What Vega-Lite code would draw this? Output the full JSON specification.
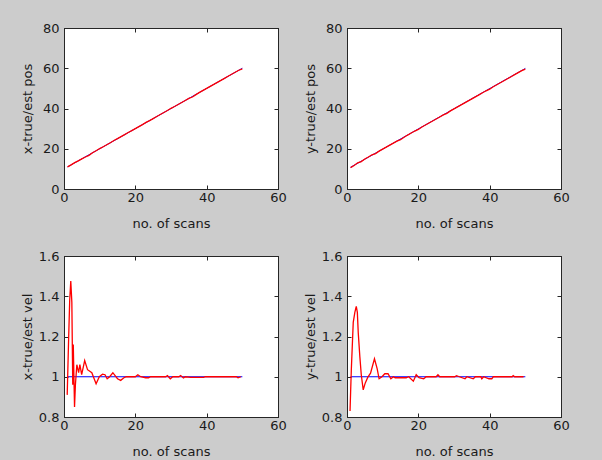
{
"$schema":"https://vega.github.io/schema/vega-lite/v6.json",
"autosize":{"type":"pad"},
"padding":{"left":20,"top":21,"right":32,"bottom":1},
"background":"#cccccc",
"bounds":"flush",
"spacing":{"row":67,"column":69},
"columns":2,
"datasets":{
"pos":[
{"p":"x","s":"t","k":1,"v":11},{"p":"x","s":"t","k":50,"v":60},
{"p":"x","s":"e","k":1,"v":11.0},{"p":"x","s":"e","k":2,"v":12.0},{"p":"x","s":"e","k":3,"v":13.1},{"p":"x","s":"e","k":4,"v":14.0},{"p":"x","s":"e","k":5,"v":15.0},{"p":"x","s":"e","k":6,"v":15.9},{"p":"x","s":"e","k":7,"v":16.7},{"p":"x","s":"e","k":8,"v":18.0},{"p":"x","s":"e","k":9,"v":19.0},{"p":"x","s":"e","k":10,"v":20.1},
{"p":"x","s":"e","k":11,"v":21.0},{"p":"x","s":"e","k":12,"v":22.0},{"p":"x","s":"e","k":13,"v":23.0},{"p":"x","s":"e","k":14,"v":24.1},{"p":"x","s":"e","k":15,"v":25.0},{"p":"x","s":"e","k":16,"v":26.0},{"p":"x","s":"e","k":17,"v":27.0},{"p":"x","s":"e","k":18,"v":28.1},{"p":"x","s":"e","k":19,"v":29.0},{"p":"x","s":"e","k":20,"v":30.0},
{"p":"x","s":"e","k":21,"v":31.0},{"p":"x","s":"e","k":22,"v":32.0},{"p":"x","s":"e","k":23,"v":33.1},{"p":"x","s":"e","k":24,"v":34.0},{"p":"x","s":"e","k":25,"v":35.0},{"p":"x","s":"e","k":26,"v":36.0},{"p":"x","s":"e","k":27,"v":37.0},{"p":"x","s":"e","k":28,"v":38.0},{"p":"x","s":"e","k":29,"v":39.0},{"p":"x","s":"e","k":30,"v":40.1},
{"p":"x","s":"e","k":31,"v":41.0},{"p":"x","s":"e","k":32,"v":42.0},{"p":"x","s":"e","k":33,"v":43.0},{"p":"x","s":"e","k":34,"v":44.0},{"p":"x","s":"e","k":35,"v":45.0},{"p":"x","s":"e","k":36,"v":45.7},{"p":"x","s":"e","k":37,"v":46.9},{"p":"x","s":"e","k":38,"v":48.0},{"p":"x","s":"e","k":39,"v":49.0},{"p":"x","s":"e","k":40,"v":50.0},
{"p":"x","s":"e","k":41,"v":51.0},{"p":"x","s":"e","k":42,"v":52.0},{"p":"x","s":"e","k":43,"v":53.0},{"p":"x","s":"e","k":44,"v":54.0},{"p":"x","s":"e","k":45,"v":55.0},{"p":"x","s":"e","k":46,"v":56.0},{"p":"x","s":"e","k":47,"v":57.0},{"p":"x","s":"e","k":48,"v":58.0},{"p":"x","s":"e","k":49,"v":59.0},{"p":"x","s":"e","k":50,"v":59.7},
{"p":"y","s":"t","k":1,"v":10.8},{"p":"y","s":"t","k":50,"v":59.9},
{"p":"y","s":"e","k":1,"v":10.6},{"p":"y","s":"e","k":2,"v":11.7},{"p":"y","s":"e","k":3,"v":13.0},{"p":"y","s":"e","k":4,"v":13.6},{"p":"y","s":"e","k":5,"v":14.9},{"p":"y","s":"e","k":6,"v":15.9},{"p":"y","s":"e","k":7,"v":17.0},{"p":"y","s":"e","k":8,"v":17.6},{"p":"y","s":"e","k":9,"v":18.8},{"p":"y","s":"e","k":10,"v":19.8},
{"p":"y","s":"e","k":11,"v":20.8},{"p":"y","s":"e","k":12,"v":21.8},{"p":"y","s":"e","k":13,"v":22.8},{"p":"y","s":"e","k":14,"v":23.8},{"p":"y","s":"e","k":15,"v":24.5},{"p":"y","s":"e","k":16,"v":25.7},{"p":"y","s":"e","k":17,"v":26.8},{"p":"y","s":"e","k":18,"v":27.8},{"p":"y","s":"e","k":19,"v":28.8},{"p":"y","s":"e","k":20,"v":29.6},
{"p":"y","s":"e","k":21,"v":30.8},{"p":"y","s":"e","k":22,"v":31.8},{"p":"y","s":"e","k":23,"v":32.8},{"p":"y","s":"e","k":24,"v":33.8},{"p":"y","s":"e","k":25,"v":34.8},{"p":"y","s":"e","k":26,"v":35.8},{"p":"y","s":"e","k":27,"v":36.8},{"p":"y","s":"e","k":28,"v":37.6},{"p":"y","s":"e","k":29,"v":38.8},{"p":"y","s":"e","k":30,"v":39.8},
{"p":"y","s":"e","k":31,"v":40.8},{"p":"y","s":"e","k":32,"v":41.8},{"p":"y","s":"e","k":33,"v":42.8},{"p":"y","s":"e","k":34,"v":43.8},{"p":"y","s":"e","k":35,"v":44.8},{"p":"y","s":"e","k":36,"v":45.8},{"p":"y","s":"e","k":37,"v":46.8},{"p":"y","s":"e","k":38,"v":47.8},{"p":"y","s":"e","k":39,"v":48.8},{"p":"y","s":"e","k":40,"v":49.6},
{"p":"y","s":"e","k":41,"v":50.8},{"p":"y","s":"e","k":42,"v":51.8},{"p":"y","s":"e","k":43,"v":52.8},{"p":"y","s":"e","k":44,"v":53.8},{"p":"y","s":"e","k":45,"v":54.8},{"p":"y","s":"e","k":46,"v":55.8},{"p":"y","s":"e","k":47,"v":56.8},{"p":"y","s":"e","k":48,"v":57.8},{"p":"y","s":"e","k":49,"v":58.8},{"p":"y","s":"e","k":50,"v":59.6}
],
"vel":[
{"p":"x","s":"t","k":1,"v":1},{"p":"x","s":"t","k":50,"v":1},
{"p":"x","s":"e","k":0.9,"v":0.91},{"p":"x","s":"e","k":1.3,"v":1.19},{"p":"x","s":"e","k":1.6,"v":1.38},{"p":"x","s":"e","k":1.9,"v":1.475},{"p":"x","s":"e","k":2.2,"v":1.37},{"p":"x","s":"e","k":2.45,"v":0.96},{"p":"x","s":"e","k":2.6,"v":1.16},{"p":"x","s":"e","k":2.95,"v":0.85},{"p":"x","s":"e","k":3.2,"v":0.96},{"p":"x","s":"e","k":3.6,"v":1.06},
{"p":"x","s":"e","k":4.1,"v":1.02},{"p":"x","s":"e","k":4.45,"v":1.06},{"p":"x","s":"e","k":4.95,"v":1.01},{"p":"x","s":"e","k":5.8,"v":1.08},{"p":"x","s":"e","k":6.6,"v":1.035},{"p":"x","s":"e","k":7.8,"v":1.02},{"p":"x","s":"e","k":9.0,"v":0.965},{"p":"x","s":"e","k":9.9,"v":1.0},{"p":"x","s":"e","k":10.8,"v":1.013},{"p":"x","s":"e","k":11.5,"v":1.01},
{"p":"x","s":"e","k":12.1,"v":0.99},{"p":"x","s":"e","k":12.8,"v":1.0},{"p":"x","s":"e","k":13.7,"v":1.02},{"p":"x","s":"e","k":15.0,"v":0.99},{"p":"x","s":"e","k":15.9,"v":0.982},{"p":"x","s":"e","k":16.8,"v":0.995},{"p":"x","s":"e","k":17.5,"v":1.0},{"p":"x","s":"e","k":20.0,"v":1.0},{"p":"x","s":"e","k":20.7,"v":1.01},{"p":"x","s":"e","k":21.5,"v":1.0},
{"p":"x","s":"e","k":22.9,"v":0.995},{"p":"x","s":"e","k":23.7,"v":0.995},{"p":"x","s":"e","k":24.3,"v":1.0},{"p":"x","s":"e","k":28.5,"v":1.0},{"p":"x","s":"e","k":29.0,"v":1.006},{"p":"x","s":"e","k":29.8,"v":0.99},{"p":"x","s":"e","k":30.5,"v":1.0},{"p":"x","s":"e","k":32.2,"v":1.0},{"p":"x","s":"e","k":32.7,"v":1.006},{"p":"x","s":"e","k":33.5,"v":0.994},
{"p":"x","s":"e","k":34.0,"v":1.0},{"p":"x","s":"e","k":35.5,"v":0.997},{"p":"x","s":"e","k":39.2,"v":0.997},{"p":"x","s":"e","k":39.6,"v":1.0},{"p":"x","s":"e","k":48.3,"v":1.0},{"p":"x","s":"e","k":48.8,"v":0.995},{"p":"x","s":"e","k":49.6,"v":1.0},
{"p":"y","s":"t","k":1,"v":1},{"p":"y","s":"t","k":50,"v":1},
{"p":"y","s":"e","k":0.85,"v":0.83},{"p":"y","s":"e","k":1.2,"v":1.03},{"p":"y","s":"e","k":1.75,"v":1.27},{"p":"y","s":"e","k":2.2,"v":1.32},{"p":"y","s":"e","k":2.6,"v":1.35},{"p":"y","s":"e","k":2.9,"v":1.32},{"p":"y","s":"e","k":3.15,"v":1.22},{"p":"y","s":"e","k":3.6,"v":1.1},{"p":"y","s":"e","k":4.0,"v":1.01},{"p":"y","s":"e","k":4.55,"v":0.935},
{"p":"y","s":"e","k":5.1,"v":0.968},{"p":"y","s":"e","k":5.85,"v":0.998},{"p":"y","s":"e","k":6.6,"v":1.018},{"p":"y","s":"e","k":7.7,"v":1.089},{"p":"y","s":"e","k":8.45,"v":1.04},{"p":"y","s":"e","k":9.0,"v":0.99},{"p":"y","s":"e","k":9.8,"v":1.0},{"p":"y","s":"e","k":10.6,"v":1.015},{"p":"y","s":"e","k":11.5,"v":1.015},{"p":"y","s":"e","k":12.3,"v":0.99},
{"p":"y","s":"e","k":13.0,"v":1.0},{"p":"y","s":"e","k":13.5,"v":0.995},{"p":"y","s":"e","k":16.6,"v":0.995},{"p":"y","s":"e","k":17.3,"v":1.0},{"p":"y","s":"e","k":18.6,"v":0.978},{"p":"y","s":"e","k":19.4,"v":1.01},{"p":"y","s":"e","k":20.2,"v":0.995},{"p":"y","s":"e","k":21.5,"v":0.99},{"p":"y","s":"e","k":22.2,"v":1.0},{"p":"y","s":"e","k":25.0,"v":1.0},
{"p":"y","s":"e","k":25.5,"v":1.01},{"p":"y","s":"e","k":26.0,"v":1.0},{"p":"y","s":"e","k":30.2,"v":1.0},{"p":"y","s":"e","k":30.7,"v":1.005},{"p":"y","s":"e","k":31.5,"v":1.0},{"p":"y","s":"e","k":33.1,"v":0.99},{"p":"y","s":"e","k":33.6,"v":1.0},{"p":"y","s":"e","k":35.4,"v":0.99},{"p":"y","s":"e","k":36.0,"v":1.0},{"p":"y","s":"e","k":37.5,"v":1.0},
{"p":"y","s":"e","k":37.8,"v":0.99},{"p":"y","s":"e","k":38.3,"v":1.0},{"p":"y","s":"e","k":39.8,"v":0.99},{"p":"y","s":"e","k":40.6,"v":0.99},{"p":"y","s":"e","k":41.0,"v":1.0},{"p":"y","s":"e","k":46.3,"v":1.0},{"p":"y","s":"e","k":46.6,"v":1.006},{"p":"y","s":"e","k":47.0,"v":1.0},{"p":"y","s":"e","k":49.5,"v":1.0}
]
},
"concat":[
{"width":214,"height":161,"data":{"name":"pos"},"transform":[{"filter":"datum.p=='x'"}],
 "layer":[
  {"transform":[{"filter":"datum.s=='t'"}],"mark":{"type":"line","color":"#0000ff","strokeWidth":1},
   "encoding":{"x":{"field":"k","type":"quantitative","scale":{"domain":[0,60],"nice":false},"axis":{"orient":"bottom","values":[0,20,40,60],"labelPadding":6,"title":"no. of scans","titleX":107,"titleY":34,"titleBaseline":"middle"}},
   "y":{"field":"v","type":"quantitative","scale":{"domain":[0,80],"nice":false},"axis":{"orient":"left","values":[0,20,40,60,80],"labelPadding":9,"title":"x-true/est pos","titleX":-37,"titleY":80.5,"titleAngle":-90,"titleBaseline":"middle","titleAlign":"center"}}}},
  {"transform":[{"filter":"datum.s=='e'"}],"mark":{"type":"line","color":"#ff0000","strokeWidth":1.3},
   "encoding":{"x":{"field":"k","type":"quantitative","axis":{"orient":"top","values":[0,20,40,60],"labels":false,"title":null}},
   "y":{"field":"v","type":"quantitative","axis":{"orient":"right","values":[0,20,40,60,80],"labels":false,"title":null}}}}
 ],
 "resolve":{"axis":{"x":"independent","y":"independent"}}},
{"width":214,"height":161,"data":{"name":"pos"},"transform":[{"filter":"datum.p=='y'"}],
 "layer":[
  {"transform":[{"filter":"datum.s=='t'"}],"mark":{"type":"line","color":"#0000ff","strokeWidth":1},
   "encoding":{"x":{"field":"k","type":"quantitative","scale":{"domain":[0,60],"nice":false},"axis":{"orient":"bottom","values":[0,20,40,60],"labelPadding":6,"title":"no. of scans","titleX":107,"titleY":34,"titleBaseline":"middle"}},
   "y":{"field":"v","type":"quantitative","scale":{"domain":[0,80],"nice":false},"axis":{"orient":"left","values":[0,20,40,60,80],"labelPadding":9,"title":"y-true/est pos","titleX":-37,"titleY":80.5,"titleAngle":-90,"titleBaseline":"middle","titleAlign":"center"}}}},
  {"transform":[{"filter":"datum.s=='e'"}],"mark":{"type":"line","color":"#ff0000","strokeWidth":1.3},
   "encoding":{"x":{"field":"k","type":"quantitative","axis":{"orient":"top","values":[0,20,40,60],"labels":false,"title":null}},
   "y":{"field":"v","type":"quantitative","axis":{"orient":"right","values":[0,20,40,60,80],"labels":false,"title":null}}}}
 ],
 "resolve":{"axis":{"x":"independent","y":"independent"}}},
{"width":214,"height":161,"data":{"name":"vel"},"transform":[{"filter":"datum.p=='x'"}],
 "layer":[
  {"transform":[{"filter":"datum.s=='t'"}],"mark":{"type":"line","color":"#0000ff","strokeWidth":1},
   "encoding":{"x":{"field":"k","type":"quantitative","scale":{"domain":[0,60],"nice":false},"axis":{"orient":"bottom","values":[0,20,40,60],"labelPadding":6,"title":"no. of scans","titleX":107,"titleY":34,"titleBaseline":"middle"}},
   "y":{"field":"v","type":"quantitative","scale":{"domain":[0.8,1.6],"nice":false,"zero":false},"axis":{"orient":"left","values":[0.8,1,1.2,1.4,1.6],"format":"~g","labelPadding":9,"title":"x-true/est vel","titleX":-37,"titleY":80.5,"titleAngle":-90,"titleBaseline":"middle","titleAlign":"center"}}}},
  {"transform":[{"filter":"datum.s=='e'"}],"mark":{"type":"line","color":"#ff0000","strokeWidth":1.3},
   "encoding":{"x":{"field":"k","type":"quantitative","axis":{"orient":"top","values":[0,20,40,60],"labels":false,"title":null}},
   "y":{"field":"v","type":"quantitative","axis":{"orient":"right","values":[0.8,1,1.2,1.4,1.6],"labels":false,"title":null}}}}
 ],
 "resolve":{"axis":{"x":"independent","y":"independent"}}},
{"width":214,"height":161,"data":{"name":"vel"},"transform":[{"filter":"datum.p=='y'"}],
 "layer":[
  {"transform":[{"filter":"datum.s=='t'"}],"mark":{"type":"line","color":"#0000ff","strokeWidth":1},
   "encoding":{"x":{"field":"k","type":"quantitative","scale":{"domain":[0,60],"nice":false},"axis":{"orient":"bottom","values":[0,20,40,60],"labelPadding":6,"title":"no. of scans","titleX":107,"titleY":34,"titleBaseline":"middle"}},
   "y":{"field":"v","type":"quantitative","scale":{"domain":[0.8,1.6],"nice":false,"zero":false},"axis":{"orient":"left","values":[0.8,1,1.2,1.4,1.6],"format":"~g","labelPadding":9,"title":"y-true/est vel","titleX":-37,"titleY":80.5,"titleAngle":-90,"titleBaseline":"middle","titleAlign":"center"}}}},
  {"transform":[{"filter":"datum.s=='e'"}],"mark":{"type":"line","color":"#ff0000","strokeWidth":1.3},
   "encoding":{"x":{"field":"k","type":"quantitative","axis":{"orient":"top","values":[0,20,40,60],"labels":false,"title":null}},
   "y":{"field":"v","type":"quantitative","axis":{"orient":"right","values":[0.8,1,1.2,1.4,1.6],"labels":false,"title":null}}}}
 ],
 "resolve":{"axis":{"x":"independent","y":"independent"}}}
],
"config":{
 "view":{"stroke":"#262626","strokeWidth":1,"fill":"#ffffff"},
 "axis":{"labelFont":"DejaVu Sans","labelFontSize":13,"labelColor":"#1a1a1a","titleFont":"DejaVu Sans","titleFontSize":13,"titleFontWeight":"normal","titleColor":"#1a1a1a","grid":false,"domainColor":"#262626","tickColor":"#262626","tickSize":-4,"labelFlush":false,"labelOverlap":false}
}
}
